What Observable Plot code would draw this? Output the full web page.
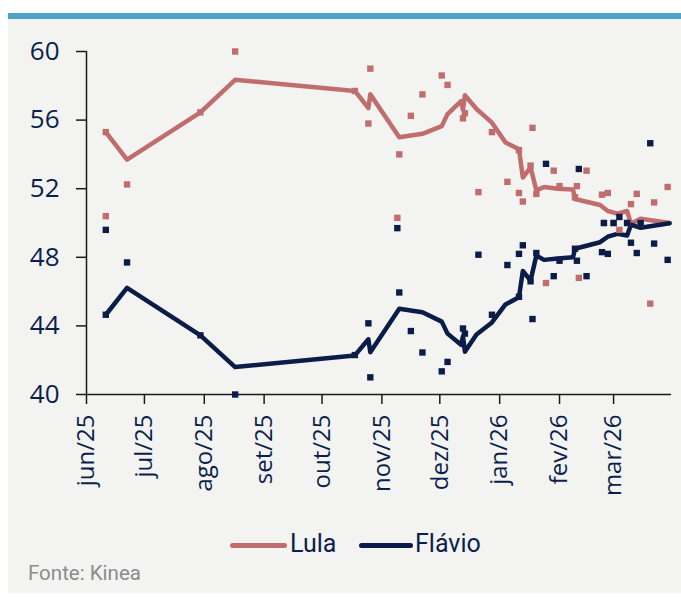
<!DOCTYPE html>
<html>
<head>
<meta charset="utf-8">
<script src="https://cdn.jsdelivr.net/npm/d3@7"></script>
<script src="https://cdn.jsdelivr.net/npm/@observablehq/plot@0.6"></script>
<style>
  body { margin: 0; background: #ffffff; width: 681px; height: 599px; position: relative; overflow: hidden; font-family: "Open Sans", sans-serif; }
  #bar { position: absolute; left: 8px; top: 13px; width: 673px; height: 6px; background: #4ea3c8; }
  #panel { position: absolute; left: 8px; top: 19px; width: 673px; height: 574px; background: #f3f3f2; }
  #chart { position: absolute; left: 0; top: 0; }
  .leg { position: absolute; top: 529px; font-family: Roboto, sans-serif; font-size: 25px; color: #0b1f4d; line-height: 30px; }
  .sw { position: absolute; height: 5px; border-radius: 3px; }
  #source { position: absolute; left: 28px; top: 561px; font-family: Roboto, sans-serif; font-size: 20.5px; color: #8c8c8c; }
</style>
</head>
<body>
<div id="bar"></div>
<div id="panel"></div>
<div id="chart"></div>
<div class="sw" style="left:230px; top:543px; width:57px; background:#c06d6d"></div>
<div class="leg" style="left:290px">Lula</div>
<div class="sw" style="left:359px; top:543px; width:54px; background:#0a1c47"></div>
<div class="leg" style="left:415px">Flávio</div>
<div id="source">Fonte: Kinea</div>
<script>
// ---- Data ----
const yTicks = [40, 44, 48, 52, 56, 60];
const monthTicks = ["2025-06-01","2025-07-01","2025-08-01","2025-09-01","2025-10-01","2025-11-01","2025-12-01","2026-01-01","2026-02-01","2026-03-01"];
const monthLabels = ["jun/25","jul/25","ago/25","set/25","out/25","nov/25","dez/25","jan/26","fev/26","mar/26"];

// Trend lines (vertex dates and values)
const trendDates = ["2025-06-11","2025-06-22","2025-07-30","2025-08-17","2025-10-18","2025-10-25","2025-10-26","2025-11-10","2025-11-22","2025-12-02","2025-12-05","2025-12-12","2025-12-13","2025-12-14","2025-12-20","2025-12-28","2026-01-04","2026-01-11","2026-01-13","2026-01-17","2026-01-20","2026-01-24","2026-01-31","2026-02-08","2026-02-09","2026-02-22","2026-02-26","2026-03-03","2026-03-08","2026-03-10","2026-03-15","2026-03-30"];
const lulaTrend = [55.3,53.7,56.45,58.35,57.7,56.7,57.5,55.0,55.2,55.65,56.35,57.1,56.6,57.45,56.65,55.85,54.7,54.3,52.65,53.25,51.9,52.1,52.0,51.95,51.4,51.05,50.7,50.55,50.7,49.95,50.25,50.0];
const flavioTrend = [44.65,46.22,43.45,41.6,42.28,43.22,42.47,45.0,44.8,44.25,43.55,42.9,43.4,42.5,43.5,44.2,45.25,45.67,47.2,46.64,48.1,47.85,47.93,48.0,48.5,48.88,49.2,49.37,49.27,49.9,49.72,49.98];

// Individual polls
const pollDates = ["2025-06-11","2025-06-11","2025-06-22","2025-07-30","2025-08-17","2025-10-18","2025-10-25","2025-10-26","2025-11-09","2025-11-10","2025-11-16","2025-11-22","2025-12-02","2025-12-05","2025-12-13","2025-12-14","2025-12-21","2025-12-28","2026-01-05","2026-01-11","2026-01-11","2026-01-13","2026-01-17","2026-01-18","2026-01-20","2026-01-25","2026-01-29","2026-02-01","2026-02-09","2026-02-10","2026-02-11","2026-02-15","2026-02-23","2026-02-24","2026-02-26","2026-03-01","2026-03-04","2026-03-08","2026-03-10","2026-03-13","2026-03-15","2026-03-20","2026-03-22","2026-03-29"];
const lulaPolls = [55.3,50.4,52.25,56.45,60.0,57.7,55.8,59.0,50.3,54.0,56.25,57.5,58.6,58.05,56.1,56.4,51.8,55.3,52.4,51.75,54.25,51.25,53.35,55.55,51.7,46.5,53.05,52.15,51.5,52.15,46.8,53.05,51.65,50.0,51.75,50.0,49.6,50.0,51.1,51.7,50.0,45.3,51.2,52.1];
const flavioPolls = [44.65,49.6,47.7,43.45,40.0,42.3,44.15,41.0,49.7,45.95,43.7,42.45,41.35,41.9,43.85,43.55,48.15,44.65,47.55,48.2,45.7,48.7,46.6,44.4,48.25,53.45,46.9,47.8,48.5,47.8,53.15,46.9,48.3,50.0,48.2,50.0,50.35,50.0,48.85,48.25,50.0,54.65,48.8,47.85];

// ---- Build tables ----
const parse = d3.utcParse("%Y-%m-%d");
const lulaLine = trendDates.map((d, i) => ({date: parse(d), v: lulaTrend[i]}));
const flavioLine = trendDates.map((d, i) => ({date: parse(d), v: flavioTrend[i]}));
const lulaPts = pollDates.map((d, i) => ({date: parse(d), v: lulaPolls[i]}));
const flavioPts = pollDates.map((d, i) => ({date: parse(d), v: flavioPolls[i]}));
const ticks = monthTicks.map(parse);
const x0 = parse("2025-06-01"), x1 = parse("2026-03-31");

const LULA = "#c06d6d", FLAVIO = "#0a1c47", TEXT = "#0b1f4d", AXIS = "#1a1a1a";

const chart = Plot.plot({
  width: 681,
  height: 520,
  marginLeft: 86,
  marginRight: 10,
  marginTop: 51,
  marginBottom: 126,
  style: {background: "transparent", fontFamily: "'Open Sans', sans-serif", fontSize: "24px"},
  x: {type: "utc", domain: [x0, x1]},
  y: {domain: [40, 60]},
  marks: [
    Plot.axisY({ticks: yTicks, tickSize: 10, tickPadding: 17, label: null, stroke: AXIS, fill: TEXT, strokeWidth: 1.5, fontSize: 26}),
    Plot.axisX({ticks: ticks, tickSize: 10, tickPadding: 10, tickRotate: -90, label: null, stroke: AXIS, fill: TEXT, strokeWidth: 1.5, fontSize: 24,
      tickFormat: (d) => monthLabels[ticks.findIndex(t => +t === +d)]}),
    Plot.ruleX([x0], {y1: 40, y2: 60, stroke: AXIS, strokeWidth: 1.5}),
    Plot.ruleY([40], {x1: x0, x2: x1, stroke: AXIS, strokeWidth: 1.5}),
    Plot.line(lulaLine, {x: "date", y: "v", stroke: LULA, strokeWidth: 4.5, strokeLinejoin: "round"}),
    Plot.line(flavioLine, {x: "date", y: "v", stroke: FLAVIO, strokeWidth: 4.5, strokeLinejoin: "round"}),
    Plot.dot(lulaPts, {x: "date", y: "v", symbol: "square", r: 3.6, fill: LULA, stroke: "none"}),
    Plot.dot(flavioPts, {x: "date", y: "v", symbol: "square", r: 3.6, fill: FLAVIO, stroke: "none"})
  ]
});
document.getElementById("chart").appendChild(chart);
</script>
</body>
</html>
